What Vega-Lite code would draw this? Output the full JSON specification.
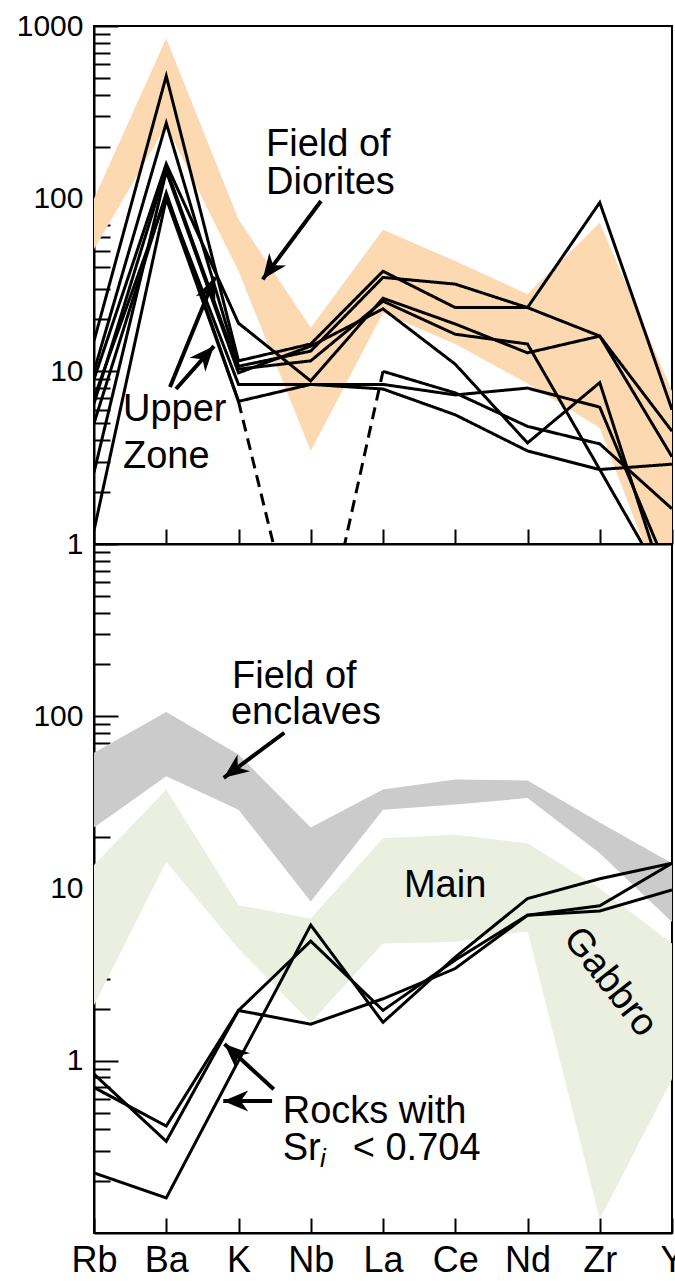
{
 "$schema": "https://vega.github.io/schema/vega-lite/v6.json",
 "padding": {"left": 15, "top": 10, "right": 0, "bottom": 0},
 "background": "white",
 "bounds": "flush",
 "spacing": 0,
 "config": {
  "view": {"stroke": "black", "strokeWidth": 2},
  "font": "Liberation Sans",
  "axis": {"domainColor": "black", "domainWidth": 2, "tickColor": "black", "tickWidth": 2, "labelColor": "black", "labelFont": "Liberation Sans", "grid": false, "zindex": 1}
 },
 "datasets": {
  "top_field": [
   {"el":"Rb","hi":100,"lo":51},{"el":"Ba","hi":850,"lo":265},{"el":"K","hi":76,"lo":38},{"el":"Nb","hi":17.9,"lo":3.46},{"el":"La","hi":66,"lo":21.8},{"el":"Ce","hi":43.5,"lo":14.4},{"el":"Nd","hi":28,"lo":8.5},{"el":"Zr","hi":72.5,"lo":4.7},{"el":"Y","hi":7.7,"lo":0.37}
  ],
  "top_lines": [
   {"s":"U1","seg":"U1","part":"plotted","el":"Rb","v":15},{"s":"U1","seg":"U1","part":"plotted","el":"Ba","v":513},{"s":"U1","seg":"U1","part":"plotted","el":"K","v":11.5},{"s":"U1","seg":"U1","part":"plotted","el":"Nb","v":14.4},{"s":"U1","seg":"U1","part":"plotted","el":"La","v":38},{"s":"U1","seg":"U1","part":"plotted","el":"Ce","v":23.4},{"s":"U1","seg":"U1","part":"plotted","el":"Nd","v":23.4},{"s":"U1","seg":"U1","part":"plotted","el":"Zr","v":95},{"s":"U1","seg":"U1","part":"plotted","el":"Y","v":6.0},
   {"s":"U2","seg":"U2","part":"plotted","el":"Rb","v":10},{"s":"U2","seg":"U2","part":"plotted","el":"Ba","v":274},{"s":"U2","seg":"U2","part":"plotted","el":"K","v":10.7},{"s":"U2","seg":"U2","part":"plotted","el":"Nb","v":13.1},{"s":"U2","seg":"U2","part":"plotted","el":"La","v":35},{"s":"U2","seg":"U2","part":"plotted","el":"Ce","v":32},{"s":"U2","seg":"U2","part":"plotted","el":"Nd","v":23.4},{"s":"U2","seg":"U2","part":"plotted","el":"Zr","v":16},{"s":"U2","seg":"U2","part":"plotted","el":"Y","v":4.5},
   {"s":"U3","seg":"U3","part":"plotted","el":"Rb","v":9},{"s":"U3","seg":"U3","part":"plotted","el":"Ba","v":159},{"s":"U3","seg":"U3","part":"plotted","el":"K","v":19},{"s":"U3","seg":"U3","part":"plotted","el":"Nb","v":8.8},{"s":"U3","seg":"U3","part":"plotted","el":"La","v":26.5},{"s":"U3","seg":"U3","part":"plotted","el":"Ce","v":18.8},{"s":"U3","seg":"U3","part":"plotted","el":"Nd","v":12.8},{"s":"U3","seg":"U3","part":"plotted","el":"Zr","v":16},{"s":"U3","seg":"U3","part":"plotted","el":"Y","v":3.2},
   {"s":"U4","seg":"U4","part":"plotted","el":"Rb","v":6.5},{"s":"U4","seg":"U4","part":"plotted","el":"Ba","v":150},{"s":"U4","seg":"U4","part":"plotted","el":"K","v":10.3},{"s":"U4","seg":"U4","part":"plotted","el":"Nb","v":11.5},{"s":"U4","seg":"U4","part":"plotted","el":"La","v":25.5},{"s":"U4","seg":"U4","part":"plotted","el":"Ce","v":16.4},{"s":"U4","seg":"U4","part":"plotted","el":"Nd","v":14.4},{"s":"U4","seg":"U4","part":"plotted","el":"Zr","v":2.7},{"s":"U4","seg":"U4","part":"plotted","el":"Y","v":0.5},
   {"s":"U5","seg":"U5","part":"plotted","el":"Rb","v":2.6},{"s":"U5","seg":"U5","part":"plotted","el":"Ba","v":144},{"s":"U5","seg":"U5","part":"plotted","el":"K","v":9.8},{"s":"U5","seg":"U5","part":"plotted","el":"Nb","v":14.0},{"s":"U5","seg":"U5","part":"plotted","el":"La","v":23},{"s":"U5","seg":"U5","part":"plotted","el":"Ce","v":11.0},{"s":"U5","seg":"U5","part":"plotted","el":"Nd","v":3.85},{"s":"U5","seg":"U5","part":"plotted","el":"Zr","v":8.6},{"s":"U5","seg":"U5","part":"plotted","el":"Y","v":0.43},
   {"s":"L1","seg":"L1","part":"plotted","el":"Rb","v":7},{"s":"L1","seg":"L1","part":"plotted","el":"Ba","v":103},{"s":"L1","seg":"L1","part":"plotted","el":"K","v":8.4},{"s":"L1","seg":"L1","part":"plotted","el":"Nb","v":8.4},{"s":"L1","seg":"L1","part":"plotted","el":"La","v":8.4},{"s":"L1","seg":"L1","part":"plotted","el":"Ce","v":7.3},{"s":"L1","seg":"L1","part":"plotted","el":"Nd","v":8.0},{"s":"L1","seg":"L1","part":"plotted","el":"Zr","v":6.2},{"s":"L1","seg":"L1","part":"plotted","el":"Y","v":0.62},
   {"s":"L2","seg":"L2","part":"plotted","el":"Rb","v":1.2},{"s":"L2","seg":"L2","part":"plotted","el":"Ba","v":100},{"s":"L2","seg":"L2","part":"plotted","el":"K","v":6.7},{"s":"L2","seg":"L2","part":"plotted","el":"Nb","v":8.4},{"s":"L2","seg":"L2","part":"plotted","el":"La","v":7.9},{"s":"L2","seg":"L2","part":"plotted","el":"Ce","v":5.6},{"s":"L2","seg":"L2","part":"plotted","el":"Nd","v":3.46},{"s":"L2","seg":"L2","part":"plotted","el":"Zr","v":2.7},{"s":"L2","seg":"L2","part":"plotted","el":"Y","v":2.9},
   {"s":"L3","seg":"L3a","part":"plotted","el":"Rb","v":5},{"s":"L3","seg":"L3a","part":"plotted","el":"Ba","v":108},{"s":"L3","seg":"L3a","part":"plotted","el":"K","v":6.7},
   {"s":"L3","seg":"L3n","part":"offscale","el":"K","v":6.7},{"s":"L3","seg":"L3n","part":"offscale","el":"Nb","v":0.13},{"s":"L3","seg":"L3n","part":"offscale","el":"La","v":10},
   {"s":"L3","seg":"L3b","part":"plotted","el":"La","v":10},{"s":"L3","seg":"L3b","part":"plotted","el":"Ce","v":7.5},{"s":"L3","seg":"L3b","part":"plotted","el":"Nd","v":4.8},{"s":"L3","seg":"L3b","part":"plotted","el":"Zr","v":3.8},{"s":"L3","seg":"L3b","part":"plotted","el":"Y","v":1.6}
  ],
  "top_notes": [
   {"t":"Field of","x":2.381,"y":176.5},{"t":"Diorites","x":2.381,"y":106.3},{"t":"Upper","x":0.401,"y":5.15},{"t":"Zone","x":0.401,"y":2.755}
  ],
  "top_arrows": [
   {"id":"diorites","x":3.142,"y":96.9,"x2":2.335,"y2":34.1},
   {"id":"uz1","x":1.052,"y":8.11,"x2":1.675,"y2":35.2},
   {"id":"uz2","x":1.135,"y":7.9,"x2":1.661,"y2":14.0}
  ],
  "bot_gray": [
   {"el":"Rb","hi":61.3,"lo":22.6},{"el":"Ba","hi":106,"lo":44.9},{"el":"K","hi":60,"lo":28.7},{"el":"Nb","hi":22.6,"lo":8.4},{"el":"La","hi":37.5,"lo":28.7},{"el":"Ce","hi":43,"lo":30.7},{"el":"Nd","hi":42.3,"lo":33.5},{"el":"Zr","hi":24.2,"lo":16},{"el":"Y","hi":14,"lo":6.4}
  ],
  "bot_green": [
   {"el":"Rb","hi":13.7,"lo":2.1},{"el":"Ba","hi":37.5,"lo":14.3},{"el":"K","hi":8.0,"lo":4.47},{"el":"Nb","hi":6.7,"lo":1.67},{"el":"La","hi":19.6,"lo":4.79},{"el":"Ce","hi":20.5,"lo":4.9},{"el":"Nd","hi":18.3,"lo":5.65},{"el":"Zr","hi":10,"lo":0.12},{"el":"Y","hi":4.8,"lo":0.78}
  ],
  "bot_lines": [
   {"s":"A","el":"Rb","v":0.836},{"s":"A","el":"Ba","v":0.341},{"s":"A","el":"K","v":1.96},{"s":"A","el":"Nb","v":1.63},{"s":"A","el":"La","v":2.29},{"s":"A","el":"Ce","v":3.43},{"s":"A","el":"Nd","v":7.0},{"s":"A","el":"Zr","v":7.4},{"s":"A","el":"Y","v":9.8},
   {"s":"B","el":"Rb","v":0.70},{"s":"B","el":"Ba","v":0.418},{"s":"B","el":"K","v":1.96},{"s":"B","el":"Nb","v":4.95},{"s":"B","el":"La","v":1.96},{"s":"B","el":"Ce","v":3.85},{"s":"B","el":"Nd","v":7.0},{"s":"B","el":"Zr","v":7.93},{"s":"B","el":"Y","v":14},
   {"s":"C","el":"Rb","v":0.223},{"s":"C","el":"Ba","v":0.16},{"s":"C","el":"K","v":1.0},{"s":"C","el":"Nb","v":6.13},{"s":"C","el":"La","v":1.67},{"s":"C","el":"Ce","v":4.0},{"s":"C","el":"Nd","v":8.74},{"s":"C","el":"Zr","v":11.4},{"s":"C","el":"Y","v":14}
  ],
  "bot_notes": [
   {"t":"Field of","x":1.91,"y":146},{"t":"enclaves","x":1.896,"y":90.6},{"t":"Main","x":4.29,"y":8.96},{"t":"Rocks with","x":2.612,"y":0.437},{"t":"Sr","x":2.612,"y":0.267},{"t":"< 0.704","x":3.581,"y":0.267}
  ],
  "bot_rot": [{"t":"Gabbro","x":7.14,"y":2.86}],
  "bot_sub": [{"t":"i","x":3.128,"y":0.242}],
  "bot_arrows": [
   {"id":"enclaves","x":2.634,"y":80.2,"x2":1.795,"y2":43.9},
   {"id":"r1","x":2.488,"y":0.683,"x2":1.806,"y2":1.25},
   {"id":"r2","x":2.465,"y":0.584,"x2":1.789,"y2":0.584}
  ]
 },
 "vconcat": [
  {
   "width": 578, "height": 518,
   "resolve": {"scale": {"x": "independent"}, "axis": {"y": "independent"}},
   "layer": [
    {
     "data": {"name": "top_field"},
     "mark": {"type": "area", "color": "#FDD9B2", "opacity": 1, "clip": true},
     "encoding": {
      "x": {"field": "el", "type": "ordinal", "scale": {"type": "point", "domain": ["Rb","Ba","K","Nb","La","Ce","Nd","Zr","Y"], "padding": 0}, "axis": null},
      "y": {"field": "hi", "type": "quantitative", "scale": {"type": "log", "domain": [1, 1000]},
            "axis": {"orient": "left", "title": null, "values": [1, 10, 100, 1000], "format": "d", "tickSize": -24, "labelFontSize": 30, "labelPadding": 35, "labelOverlap": false, "labelBound": false, "labelFlush": false, "domain": true}},
      "y2": {"field": "lo"},
      "order": {"value": null}
     }
    },
    {
     "data": {"name": "top_lines"},
     "mark": {"type": "line", "color": "black", "strokeWidth": 3, "clip": true},
     "encoding": {
      "x": {"field": "el", "type": "ordinal", "scale": {"type": "point", "domain": ["Rb","Ba","K","Nb","La","Ce","Nd","Zr","Y"], "padding": 0},
            "axis": {"orient": "bottom", "title": null, "labels": false, "tickSize": -15, "domain": true}},
      "y": {"field": "v", "type": "quantitative", "scale": {"type": "log", "domain": [1, 1000]},
            "axis": {"orient": "left", "title": null, "labels": false, "domain": false, "tickSize": -16, "values": [2,3,4,5,6,7,8,9,20,30,40,50,60,70,80,90,200,300,400,500,600,700,800,900]}},
      "detail": {"field": "seg"},
      "strokeDash": {"field": "part", "type": "nominal", "scale": {"domain": ["plotted", "offscale"], "range": [[1, 0], [12, 7]]}, "legend": null},
      "order": {"value": null}
     }
    },
    {
     "data": {"name": "top_arrows"},
     "mark": {"type": "rule", "color": "black", "strokeWidth": 4},
     "encoding": {
      "x": {"field": "x", "type": "quantitative", "scale": {"domain": [0, 8], "nice": false, "zero": false}, "axis": null},
      "x2": {"field": "x2"},
      "y": {"field": "y", "type": "quantitative", "axis": null},
      "y2": {"field": "y2"}
     }
    },
    {
     "data": {"name": "top_arrows"},
     "transform": [{"filter": "datum.id == 'diorites'"}],
     "mark": {"type": "point", "shape": "M0,0L-1,-0.42L-0.7,0L-1,0.42Z", "size": 2500, "filled": true, "color": "black", "opacity": 1, "angle": 126.7},
     "encoding": {
      "x": {"field": "x2", "type": "quantitative", "scale": {"domain": [0, 8], "nice": false, "zero": false}, "axis": null},
      "y": {"field": "y2", "type": "quantitative", "axis": null}
     }
    },
    {
     "data": {"name": "top_arrows"},
     "transform": [{"filter": "datum.id == 'uz1'"}],
     "mark": {"type": "point", "shape": "M0,0L-1,-0.42L-0.7,0L-1,0.42Z", "size": 2500, "filled": true, "color": "black", "opacity": 1, "angle": -67.8},
     "encoding": {
      "x": {"field": "x2", "type": "quantitative", "scale": {"domain": [0, 8], "nice": false, "zero": false}, "axis": null},
      "y": {"field": "y2", "type": "quantitative", "axis": null}
     }
    },
    {
     "data": {"name": "top_arrows"},
     "transform": [{"filter": "datum.id == 'uz2'"}],
     "mark": {"type": "point", "shape": "M0,0L-1,-0.42L-0.7,0L-1,0.42Z", "size": 2500, "filled": true, "color": "black", "opacity": 1, "angle": -48.5},
     "encoding": {
      "x": {"field": "x2", "type": "quantitative", "scale": {"domain": [0, 8], "nice": false, "zero": false}, "axis": null},
      "y": {"field": "y2", "type": "quantitative", "axis": null}
     }
    },
    {
     "data": {"name": "top_notes"},
     "mark": {"type": "text", "align": "left", "baseline": "alphabetic", "fontSize": 38, "font": "Liberation Sans", "color": "black"},
     "encoding": {
      "x": {"field": "x", "type": "quantitative", "scale": {"domain": [0, 8], "nice": false, "zero": false}, "axis": null},
      "y": {"field": "y", "type": "quantitative", "axis": null},
      "text": {"field": "t"}
     }
    }
   ]
  },
  {
   "width": 578, "height": 689,
   "resolve": {"scale": {"x": "independent"}, "axis": {"y": "independent"}},
   "layer": [
    {
     "data": {"name": "bot_green"},
     "mark": {"type": "area", "color": "#EBEFDF", "opacity": 1, "clip": true},
     "encoding": {
      "x": {"field": "el", "type": "ordinal", "scale": {"type": "point", "domain": ["Rb","Ba","K","Nb","La","Ce","Nd","Zr","Y"], "padding": 0}, "axis": null},
      "y": {"field": "hi", "type": "quantitative", "scale": {"type": "log", "domain": [0.1, 1000]},
            "axis": {"orient": "left", "title": null, "values": [1, 10, 100], "format": "d", "tickSize": -24, "labelFontSize": 30, "labelPadding": 35, "labelOverlap": false, "labelBound": false, "labelFlush": false, "domain": true}},
      "y2": {"field": "lo"},
      "order": {"value": null}
     }
    },
    {
     "data": {"name": "bot_gray"},
     "mark": {"type": "area", "color": "#CBCBCB", "opacity": 1, "clip": true},
     "encoding": {
      "x": {"field": "el", "type": "ordinal", "scale": {"type": "point", "domain": ["Rb","Ba","K","Nb","La","Ce","Nd","Zr","Y"], "padding": 0}, "axis": null},
      "y": {"field": "hi", "type": "quantitative", "axis": null},
      "y2": {"field": "lo"},
      "order": {"value": null}
     }
    },
    {
     "data": {"name": "bot_lines"},
     "mark": {"type": "line", "color": "black", "strokeWidth": 3, "clip": true},
     "encoding": {
      "x": {"field": "el", "type": "ordinal", "scale": {"type": "point", "domain": ["Rb","Ba","K","Nb","La","Ce","Nd","Zr","Y"], "padding": 0},
            "axis": {"orient": "bottom", "title": null, "labels": true, "labelAngle": 0, "labelFontSize": 36, "labelPadding": 25, "tickSize": -15, "domain": true, "labelOverlap": false, "labelBound": false, "labelFlush": false}},
      "y": {"field": "v", "type": "quantitative",
            "axis": {"orient": "left", "title": null, "labels": false, "domain": false, "tickSize": -16, "values": [0.2,0.3,0.4,0.5,0.6,0.7,0.8,0.9,2,3,4,5,6,7,8,9,20,30,40,50,60,70,80,90,200,300,400,500,600,700,800,900]}},
      "detail": {"field": "s"},
      "order": {"value": null}
     }
    },
    {
     "data": {"name": "bot_arrows"},
     "mark": {"type": "rule", "color": "black", "strokeWidth": 4},
     "encoding": {
      "x": {"field": "x", "type": "quantitative", "scale": {"domain": [0, 8], "nice": false, "zero": false}, "axis": null},
      "x2": {"field": "x2"},
      "y": {"field": "y", "type": "quantitative", "axis": null},
      "y2": {"field": "y2"}
     }
    },
    {
     "data": {"name": "bot_arrows"},
     "transform": [{"filter": "datum.id == 'enclaves'"}],
     "mark": {"type": "point", "shape": "M0,0L-1,-0.42L-0.7,0L-1,0.42Z", "size": 2500, "filled": true, "color": "black", "opacity": 1, "angle": 143.4},
     "encoding": {
      "x": {"field": "x2", "type": "quantitative", "scale": {"domain": [0, 8], "nice": false, "zero": false}, "axis": null},
      "y": {"field": "y2", "type": "quantitative", "axis": null}
     }
    },
    {
     "data": {"name": "bot_arrows"},
     "transform": [{"filter": "datum.id == 'r1'"}],
     "mark": {"type": "point", "shape": "M0,0L-1,-0.42L-0.7,0L-1,0.42Z", "size": 2500, "filled": true, "color": "black", "opacity": 1, "angle": 222.4},
     "encoding": {
      "x": {"field": "x2", "type": "quantitative", "scale": {"domain": [0, 8], "nice": false, "zero": false}, "axis": null},
      "y": {"field": "y2", "type": "quantitative", "axis": null}
     }
    },
    {
     "data": {"name": "bot_arrows"},
     "transform": [{"filter": "datum.id == 'r2'"}],
     "mark": {"type": "point", "shape": "M0,0L-1,-0.42L-0.7,0L-1,0.42Z", "size": 2500, "filled": true, "color": "black", "opacity": 1, "angle": 180},
     "encoding": {
      "x": {"field": "x2", "type": "quantitative", "scale": {"domain": [0, 8], "nice": false, "zero": false}, "axis": null},
      "y": {"field": "y2", "type": "quantitative", "axis": null}
     }
    },
    {
     "data": {"name": "bot_notes"},
     "mark": {"type": "text", "align": "left", "baseline": "alphabetic", "fontSize": 38, "font": "Liberation Sans", "color": "black"},
     "encoding": {
      "x": {"field": "x", "type": "quantitative", "scale": {"domain": [0, 8], "nice": false, "zero": false}, "axis": null},
      "y": {"field": "y", "type": "quantitative", "axis": null},
      "text": {"field": "t"}
     }
    },
    {
     "data": {"name": "bot_rot"},
     "mark": {"type": "text", "align": "center", "baseline": "middle", "fontSize": 38, "font": "Liberation Sans", "color": "black", "angle": 52},
     "encoding": {
      "x": {"field": "x", "type": "quantitative", "scale": {"domain": [0, 8], "nice": false, "zero": false}, "axis": null},
      "y": {"field": "y", "type": "quantitative", "axis": null},
      "text": {"field": "t"}
     }
    },
    {
     "data": {"name": "bot_sub"},
     "mark": {"type": "text", "align": "left", "baseline": "alphabetic", "fontSize": 26, "fontStyle": "italic", "font": "Liberation Sans", "color": "black"},
     "encoding": {
      "x": {"field": "x", "type": "quantitative", "scale": {"domain": [0, 8], "nice": false, "zero": false}, "axis": null},
      "y": {"field": "y", "type": "quantitative", "axis": null},
      "text": {"field": "t"}
     }
    }
   ]
  }
 ]
}
